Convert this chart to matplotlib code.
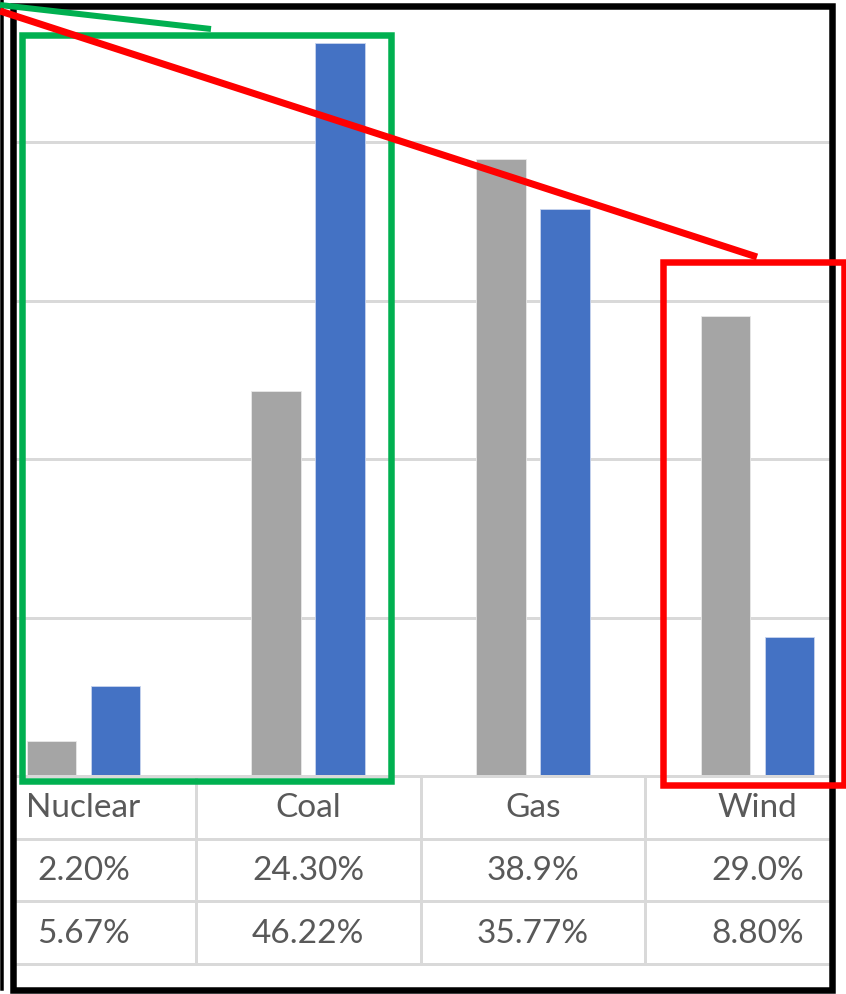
import matplotlib.pyplot as plt
from matplotlib.patches import Rectangle
import numpy as np

# share of generation, %
categories = ['Nuclear', 'Coal', 'Gas', 'Wind']
series_a = [2.20, 24.30, 38.9, 29.0]     # grey bars
series_b = [5.67, 46.22, 35.77, 8.80]    # blue bars
labels_a = ['2.20%', '24.30%', '38.9%', '29.0%']
labels_b = ['5.67%', '46.22%', '35.77%', '8.80%']

W, H = 846, 995
fig = plt.figure(figsize=(W / 100, H / 100), dpi=100)
plt.rcParams['font.family'] = ['Lato', 'DejaVu Sans']


def box(x0, y0, x1, y1):
    return [x0 / W, 1 - y1 / H, (x1 - x0) / W, (y1 - y0) / H]


px = 72 / 100  # points per pixel
xlim = (-0.3004, 3.3222)
x = np.arange(len(categories))
bw = 0.22
off = 0.1424

# bars
ax = fig.add_axes(box(16, 0, 830, 777))
ax.bar(x - off, series_a, bw, color='#a5a5a5', edgecolor='#e8e8e8', lw=0.6, zorder=3)
ax.bar(x + off, series_b, bw, color='#4472c4', edgecolor='#c8d4ee', lw=0.6, zorder=3)
ax.set_xlim(*xlim)
ax.set_ylim(0, 777 / 15.85)
ax.set_yticks([0, 10, 20, 30, 40])
ax.yaxis.grid(True, color='#d9d9d9', lw=3 * px)
ax.set_axisbelow(True)
ax.tick_params(length=0, labelleft=False, labelbottom=False)
ax.set_xticks([])
for s in ax.spines.values():
    s.set_visible(False)

# data table under the bars
tb = fig.add_axes(box(16, 777, 830, 965))
tb.set_xlim(*xlim)
tb.set_ylim(3, 0)
tb.axis('off')
for r in range(4):
    tb.axhline(r, color='#d9d9d9', lw=3 * px, clip_on=False)
for c in x[:-1] + 0.5:
    tb.plot([c, c], [0, 3], color='#d9d9d9', lw=3 * px, clip_on=False)
for row, vals in enumerate([categories, labels_a, labels_b]):
    for i, v in enumerate(vals):
        tb.text(x[i], row + 0.5, v, ha='center', va='center', fontsize=24, color='#595959')

# frame and call-outs
ov = fig.add_axes([0, 0, 1, 1])
ov.set_xlim(0, W)
ov.set_ylim(H, 0)
ov.axis('off')
ov.add_patch(Rectangle((13, 7), 819, 984, fill=False, ec='black', lw=6.5 * px, joinstyle='miter'))
ov.plot([1.5, 1.5], [0, 990], color='black', lw=3.5 * px)
ov.add_patch(Rectangle((22, 36), 369, 746, fill=False, ec='#00b050', lw=6.5 * px, joinstyle='miter'))
ov.plot([0, 211], [6, 30], color='#00b050', lw=6 * px, solid_capstyle='butt')
ov.add_patch(Rectangle((663, 263), 181, 523, fill=False, ec='#ff0000', lw=6.5 * px, joinstyle='miter'))
ov.plot([0, 757], [12, 258], color='#ff0000', lw=7 * px, solid_capstyle='butt')

fig.savefig('out.png', dpi=100)
